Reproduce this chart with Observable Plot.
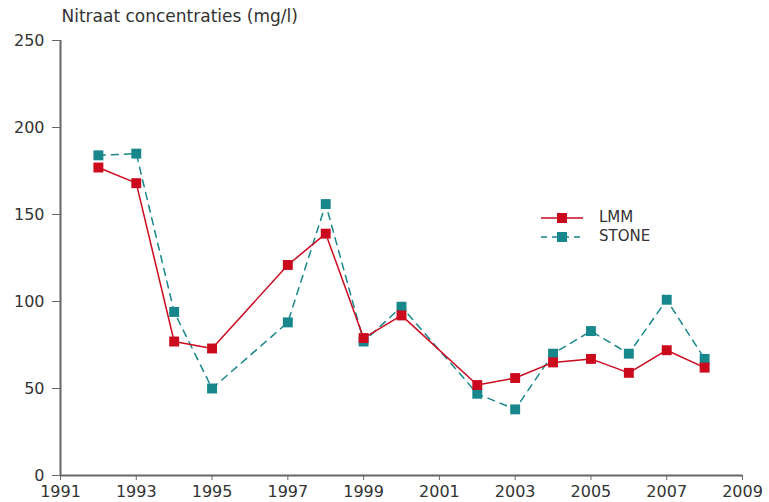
<!DOCTYPE html>
<html><head><meta charset="utf-8">
<script src="https://cdn.jsdelivr.net/npm/d3@7"></script>
<script src="https://cdn.jsdelivr.net/npm/@observablehq/plot@0.6"></script>
<style>
body{margin:0;background:#fff;font-family:"DejaVu Sans",sans-serif;}
#wrap{position:relative;width:769px;height:502px;}
#legend{position:absolute;left:541px;top:208px;font-size:15px;color:#333;line-height:19px;}
#legend div{display:flex;align-items:center;height:19px;}
#legend svg{margin-right:16px;}
</style>
</head><body>
<div id="wrap"><div id="chart"></div>
<div id="legend">
<div><svg width="42" height="12"><line x1="0" x2="42" y1="6" y2="6" stroke="#cc0a1e" stroke-width="1.5"/><rect x="16" y="1" width="10" height="10" fill="#cc0a1e"/></svg>LMM</div>
<div><svg width="42" height="12"><line x1="0" x2="42" y1="6" y2="6" stroke="#17878c" stroke-width="1.5" stroke-dasharray="6,5"/><rect x="16" y="1" width="10" height="10" fill="#17878c"/></svg>STONE</div>
</div>
</div>
<script>
const years = [1992, 1993, 1994, 1995, 1997, 1998, 1999, 2000, 2002, 2003, 2004, 2005, 2006, 2007, 2008];
const lmm   = [177, 168, 77, 73, 121, 139, 79, 92, 52, 56, 65, 67, 59, 72, 62];
const stone = [184, 185, 94, 50, 88, 156, 77, 97, 47, 38, 70, 83, 70, 101, 67];
const xTicks = [1991, 1993, 1995, 1997, 1999, 2001, 2003, 2005, 2007, 2009];
const yTicks = [0, 50, 100, 150, 200, 250];
const title = "Nitraat concentraties (mg/l)";

const dLmm = years.map((y, i) => ({year: y, v: lmm[i]}));
const dStone = years.map((y, i) => ({year: y, v: stone[i]}));
const red = "#cc0a1e", teal = "#17878c";

const chart = Plot.plot({
  width: 769, height: 502,
  marginLeft: 60, marginTop: 40, marginBottom: 27, marginRight: 27,
  style: {fontFamily: "'DejaVu Sans', sans-serif", fontSize: "16px", color: "#333"},
  x: {domain: [1991, 2009], label: null},
  y: {domain: [0, 250], label: null},
  marks: [
    Plot.axisX({ticks: xTicks, tickFormat: "d", label: null, tickSize: 5, tickPadding: 5, fontSize: 16, stroke: "#666"}),
    Plot.axisY({ticks: yTicks, label: null, tickSize: 8, tickPadding: 8, fontSize: 16, stroke: "#666"}),
    Plot.ruleY([0], {stroke: "#666", strokeWidth: 2}),
    Plot.ruleX([1991], {stroke: "#666", strokeWidth: 2}),
    Plot.line(dStone, {x: "year", y: "v", stroke: teal, strokeWidth: 1.5, strokeDasharray: "7,6"}),
    Plot.line(dLmm, {x: "year", y: "v", stroke: red, strokeWidth: 1.5}),
    Plot.dot(dStone, {x: "year", y: "v", symbol: "square", r: 5.6, fill: teal}),
    Plot.dot(dLmm, {x: "year", y: "v", symbol: "square", r: 5.6, fill: red}),
    Plot.text([title], {frameAnchor: "top-left", dx: 1, dy: -31, textAnchor: "start", lineAnchor: "top", fontSize: 17, fill: "#333"})
  ]
});
document.getElementById("chart").appendChild(chart);
</script>
</body></html>
